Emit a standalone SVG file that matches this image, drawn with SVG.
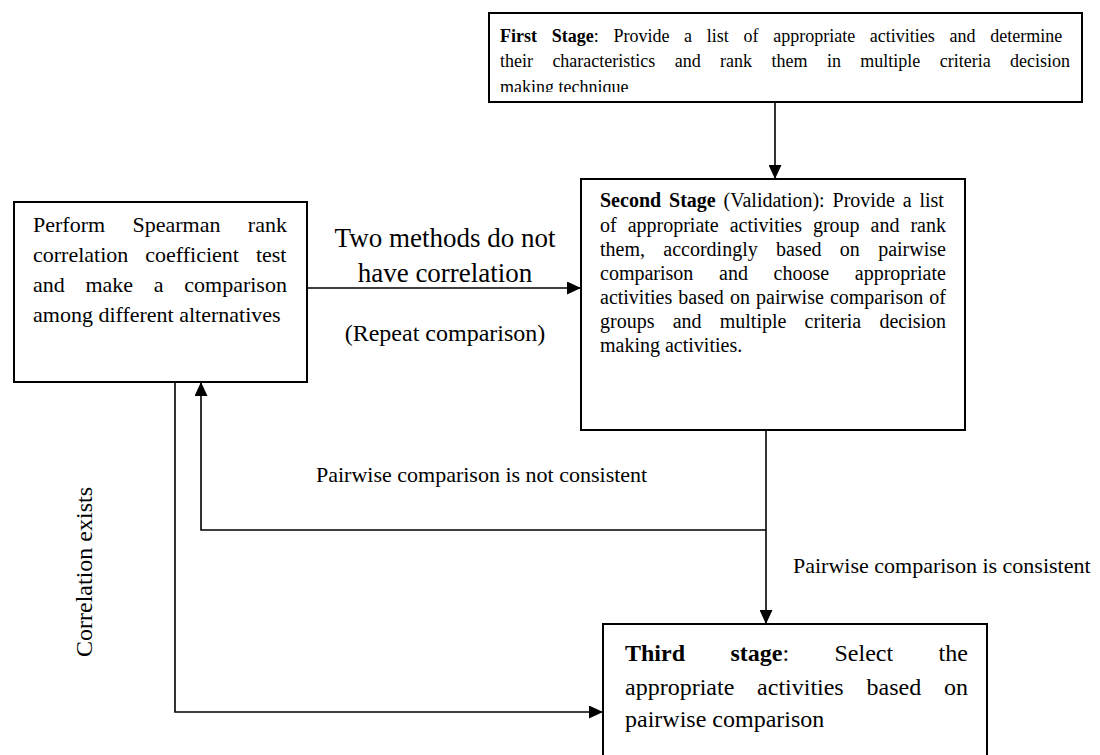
<svg xmlns="http://www.w3.org/2000/svg" width="1100" height="755" viewBox="0 0 1100 755">
<style>
.box{fill:#fff;stroke:#000;stroke-width:2}
.t{font-family:"Liberation Serif","Times New Roman",serif;fill:#000}
.b{font-weight:bold}
.ln{fill:none;stroke:#000;stroke-width:1.6}
</style>
<defs>
<marker id="ah" markerUnits="userSpaceOnUse" markerWidth="14" markerHeight="13" refX="14" refY="6.5" orient="auto">
<path d="M0,0 L14,6.5 L0,13 Z" fill="#000"/>
</marker>
<clipPath id="c1"><rect x="489" y="14" width="592" height="78"/></clipPath>
</defs>
<rect width="1100" height="755" fill="#fff"/>

<g id="connectors">
<line class="ln" x1="775" y1="103" x2="775" y2="179" marker-end="url(#ah)"/>
<line class="ln" x1="308" y1="288" x2="581" y2="288" marker-end="url(#ah)"/>
<line class="ln" x1="766" y1="430" x2="766" y2="624" marker-end="url(#ah)"/>
<polyline class="ln" points="766,530 201,530 201,382" marker-end="url(#ah)"/>
<polyline class="ln" points="175,382 175,712 603,712" marker-end="url(#ah)"/>
<text class="t" x="445" y="247" font-size="27" text-anchor="middle">Two methods do not</text>
<text class="t" x="445" y="282" font-size="27" text-anchor="middle">have correlation</text>
<text class="t" x="445" y="341" font-size="24" text-anchor="middle">(Repeat comparison)</text>
<text class="t" x="316" y="482" font-size="22">Pairwise comparison is not consistent</text>
<text class="t" x="793" y="573" font-size="22">Pairwise comparison is consistent</text>
<text class="t" font-size="24" text-anchor="middle" transform="translate(92,572) rotate(-90)">Correlation exists</text>
</g>

<g id="first-stage">
<rect class="box" x="489" y="13" width="593" height="89"/>
<g clip-path="url(#c1)" class="t" font-size="18">
<text x="500" y="42" word-spacing="10.2"><tspan class="b">First Stage</tspan>: Provide a list of appropriate activities and determine</text>
<text x="500" y="67" word-spacing="14.9">their characteristics and rank them in multiple criteria decision</text>
<text x="500" y="93">making technique</text>
</g>
</g>

<g id="second-stage">
<rect class="box" x="581" y="179" width="384" height="251"/>
<g class="t" font-size="20">
<text x="600" y="207" word-spacing="2.9"><tspan class="b">Second Stage</tspan> (Validation): Provide a list</text>
<text x="600" y="232" word-spacing="6">of appropriate activities group and rank</text>
<text x="600" y="256" word-spacing="13.3">them, accordingly based on pairwise</text>
<text x="600" y="280" word-spacing="20.7">comparison and choose appropriate</text>
<text x="600" y="304" word-spacing="1.1">activities based on pairwise comparison of</text>
<text x="600" y="328" word-spacing="13.2">groups and multiple criteria decision</text>
<text x="600" y="352">making activities.</text>
</g>
</g>

<g id="spearman">
<rect class="box" x="14" y="202" width="293" height="180"/>
<g class="t" font-size="22">
<text x="33" y="232" word-spacing="21.9">Perform Spearman rank</text>
<text x="33" y="262" word-spacing="11.5">correlation coefficient test</text>
<text x="33" y="292" word-spacing="15.2">and make a comparison</text>
<text x="33" y="322">among different alternatives</text>
</g>
</g>

<g id="third-stage">
<rect class="box" x="603" y="624" width="384" height="140"/>
<g class="t" font-size="24">
<text x="625" y="661" word-spacing="39.4"><tspan class="b">Third stage</tspan>: Select the</text>
<text x="625" y="695" word-spacing="16.8">appropriate activities based on</text>
<text x="625" y="727">pairwise comparison</text>
</g>
</g>
</svg>
